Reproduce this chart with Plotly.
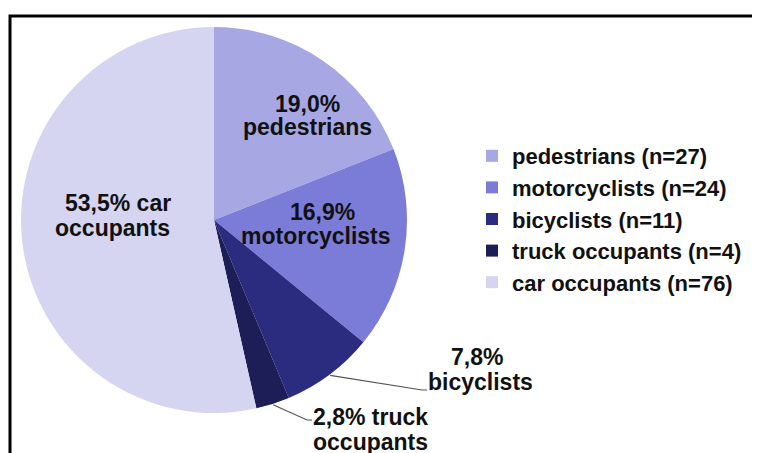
import math
import plotly.graph_objects as go

# ---- data ----
categories = ["pedestrians", "motorcyclists", "bicyclists", "truck occupants", "car occupants"]
counts = [27, 24, 11, 4, 76]
percent_labels = ["19,0%", "16,9%", "7,8%", "2,8%", "53,5%"]
slice_label_lines = [
    ["19,0%", "pedestrians"],
    ["16,9%", "motorcyclists"],
    ["7,8%", "bicyclists"],
    ["2,8% truck", "occupants"],
    ["53,5% car", "occupants"],
]
colors = ["#a7a7e4", "#7b7bd8", "#2b2b80", "#1d1d58", "#d5d5f1"]

# ---- layout helpers (page pixel -> paper; page body has an 8px offset) ----
W, H = 760, 453
OFF = 8
cx, cy, R = 214, 220, 193


def px(x):
    return (x - OFF) / W


def py(y):
    return 1 - (y - OFF) / H


legend_names = [f"{c} (n={n})" for c, n in zip(categories, counts)]

fig = go.Figure(
    go.Pie(
        labels=legend_names,
        values=counts,
        sort=False,
        direction="clockwise",
        rotation=0,
        marker=dict(colors=colors, line=dict(width=0)),
        textinfo="none",
        hoverinfo="none",
        domain=dict(x=[px(cx - R), px(cx + R)], y=[py(cy + R), py(cy - R)]),
    )
)

FONT = "Liberation Sans, Arial, sans-serif"
TXT = "#111111"

# label positions (pixel centres of each text line)
label_pos = [
    [(307, 104), (307, 127)],
    [(322, 212), (316, 236)],
    [(477, 357), (480, 382)],
    [(370, 417), (370, 442)],
    [(118, 203), (112, 228)],
]

annotations = []
for lines, pos in zip(slice_label_lines, label_pos):
    for t, (x, y) in zip(lines, pos):
        annotations.append(
            dict(
                text=t, x=px(x), y=py(y), xref="paper", yref="paper",
                showarrow=False, xanchor="center", yanchor="middle",
                font=dict(family=FONT, size=23, color=TXT, weight="bold"),
            )
        )

# leader lines for the two small slices, starting at the slice mid-angle on the rim
total = sum(counts)
cum = [sum(counts[:i]) for i in range(len(counts))]
leader_ends = {2: [(422, 390), (427, 390)], 3: [(307, 420), (312, 420)]}
shapes = []
for i, ends in leader_ends.items():
    frac = (cum[i] + counts[i] / 2) / total
    th = 2 * math.pi * frac
    sx = cx + (R + 1) * math.sin(th)
    sy = cy - (R + 1) * math.cos(th)
    pts = [(sx, sy)] + ends
    path = "M " + " L ".join(f"{px(x):.5f},{py(y):.5f}" for x, y in pts)
    shapes.append(dict(type="path", path=path, xref="paper", yref="paper",
                       line=dict(color="#555555", width=1.2)))

# outer frame (open at right/bottom, cut by the image edge)
shapes.append(dict(type="rect", xref="paper", yref="paper",
                   x0=px(10), x1=1.05, y0=-0.05, y1=py(16),
                   line=dict(color="#000000", width=3)))

fig.update_layout(
    width=W,
    height=H,
    margin=dict(l=0, r=0, t=0, b=0),
    paper_bgcolor="white",
    plot_bgcolor="white",
    showlegend=True,
    legend=dict(
        x=px(472), y=py(135), xanchor="left", yanchor="top",
        font=dict(family=FONT, size=22, color=TXT, weight="bold"),
        bgcolor="rgba(0,0,0,0)",
        traceorder="normal",
    ),
    annotations=annotations,
    shapes=shapes,
)

fig.write_html("out.html")
